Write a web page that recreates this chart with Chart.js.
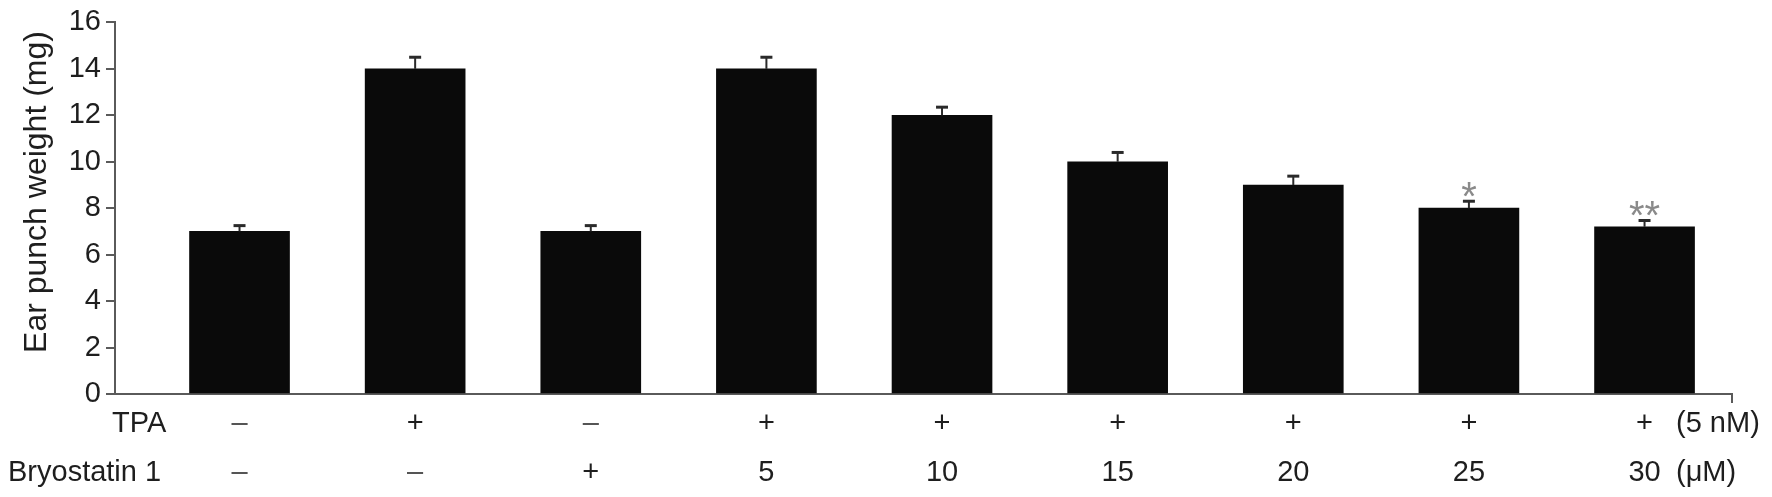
<!DOCTYPE html>
<html><head><meta charset="utf-8">
<script src="https://cdn.jsdelivr.net/npm/chart.js@4/dist/chart.umd.min.js"></script>
<style>html,body{margin:0;padding:0;background:#fff;overflow:hidden}#wrap{width:1772px;height:497px;position:relative}</style>
</head><body><div id="wrap"><canvas id="c" width="1772" height="497"></canvas></div>
<script>
// ---- data ----
const groups = [0, 1, 2, 3, 4, 5, 6, 7, 8];
const tpaLabels = ['–', '+', '–', '+', '+', '+', '+', '+', '+'];
const bryoLabels = ['–', '–', '+', '5', '10', '15', '20', '25', '30'];
const values = [7, 14, 7, 14, 12, 10, 9, 8, 7.2];
const errors = [0.25, 0.5, 0.25, 0.5, 0.35, 0.4, 0.38, 0.3, 0.27];
const significance = ['', '', '', '', '', '', '', '*', '**'];
const yTitle = 'Ear punch weight (mg)';
const rowTitles = ['TPA', 'Bryostatin 1'];
const rowUnits = ['(5 nM)', '(μM)'];

const FONT = "'Liberation Sans', Arial, Helvetica, sans-serif";
const TXT = '#1e1e1e';
const AX = '#5a5a5a';

const overlay = {
  id: 'overlay',
  afterDatasetsDraw(chart) {
    const ctx = chart.ctx;
    const ys = chart.scales.y;
    const meta = chart.getDatasetMeta(0);
    ctx.save();
    meta.data.forEach((el, i) => {
      const x = el.x;
      const yTop = ys.getPixelForValue(values[i] + errors[i]);
      ctx.strokeStyle = '#2a2a2a';
      ctx.lineWidth = 2;
      ctx.beginPath();
      ctx.moveTo(x, el.y);
      ctx.lineTo(x, yTop);
      ctx.stroke();
      ctx.lineWidth = 3;
      ctx.beginPath();
      ctx.moveTo(x - 6, yTop);
      ctx.lineTo(x + 6, yTop);
      ctx.stroke();
      if (significance[i]) {
        ctx.fillStyle = '#8a8a8a';
        ctx.font = '40px ' + FONT;
        ctx.textAlign = 'center';
        ctx.textBaseline = 'alphabetic';
        const m = ctx.measureText(significance[i]);
        const a = m.actualBoundingBoxAscent, d = m.actualBoundingBoxDescent;
        const cy = yTop - 12;
        ctx.fillText(significance[i], x, cy + (a - d) / 2);
      }
    });
    ctx.restore();
  },
  afterDraw(chart) {
    const ctx = chart.ctx;
    const xs = chart.scales.x;
    const area = chart.chartArea;
    ctx.save();
    // end tick of x axis
    ctx.strokeStyle = AX;
    ctx.lineWidth = 2;
    ctx.beginPath();
    ctx.moveTo(area.right, area.bottom);
    ctx.lineTo(area.right, area.bottom + 9);
    ctx.stroke();

    ctx.fillStyle = TXT;
    ctx.font = '29px ' + FONT;
    ctx.textBaseline = 'alphabetic';
    const b1 = area.bottom + 38, b2 = area.bottom + 87;
    ctx.textAlign = 'center';
    groups.forEach((g, i) => {
      const x = xs.getPixelForValue(g);
      ctx.fillStyle = tpaLabels[i] === '–' ? '#555' : TXT;
      ctx.fillText(tpaLabels[i], x, b1);
      ctx.fillStyle = bryoLabels[i] === '–' ? '#555' : TXT;
      ctx.fillText(bryoLabels[i], x, b2);
    });
    ctx.fillStyle = TXT;
    ctx.textAlign = 'left';
    ctx.fillText(rowTitles[0], 112, b1);
    ctx.fillText(rowTitles[1], 8, b2);
    ctx.fillText(rowUnits[0], area.right - 56, b1);
    ctx.fillText(rowUnits[1], area.right - 56, b2);

    // y title
    ctx.font = '32px ' + FONT;
    ctx.translate(37, 192);
    ctx.rotate(-Math.PI / 2);
    ctx.textAlign = 'center';
    ctx.textBaseline = 'middle';
    ctx.fillText(yTitle, 0, 0);
    ctx.restore();
  }
};

new Chart(document.getElementById('c'), {
  type: 'bar',
  data: {
    datasets: [{
      data: groups.map((g, i) => ({ x: g, y: values[i] })),
      backgroundColor: '#0a0a0a',
      borderWidth: 0,
      barThickness: 100
    }]
  },
  options: {
    responsive: false,
    animation: false,
    devicePixelRatio: 1,
    layout: { padding: { top: 8, right: 40, left: 0, bottom: 0 } },
    plugins: { legend: { display: false }, tooltip: { enabled: false } },
    scales: {
      x: {
        type: 'linear',
        offset: false,
        min: -0.709,
        max: 8.498,
        ticks: { display: false },
        grid: { display: false, offset: false },
        border: { display: true, color: AX, width: 2 },
        afterFit(s) { s.height = 103; }
      },
      y: {
        min: 0,
        max: 16,
        ticks: { stepSize: 2, color: TXT, font: { size: 29, family: FONT }, padding: 5 },
        grid: { drawOnChartArea: false, drawTicks: true, tickLength: 9, color: AX, lineWidth: 2 },
        border: { display: true, color: AX, width: 2 },
        afterFit(s) { s.width = 115; }
      }
    }
  },
  plugins: [overlay]
});
</script>
</body></html>
